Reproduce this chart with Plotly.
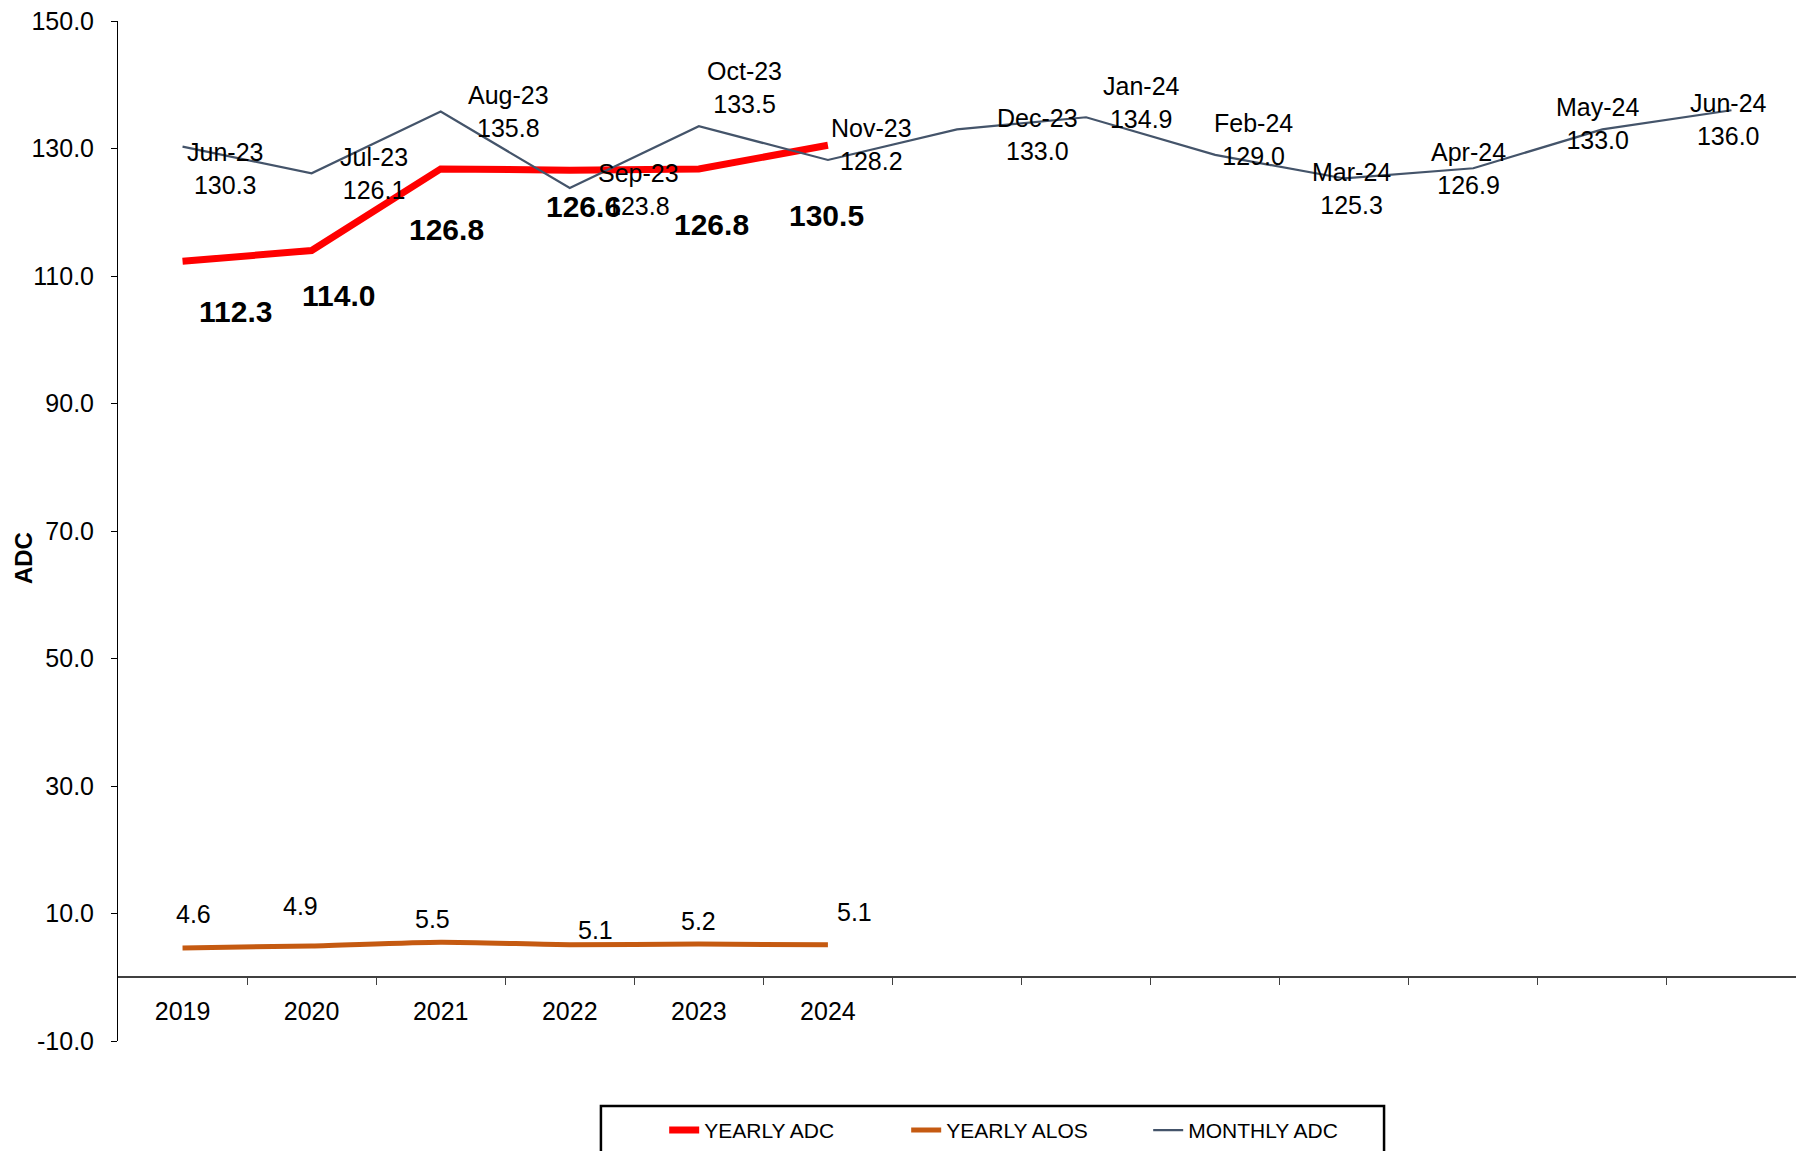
import plotly.graph_objects as go

years = ["2019", "2020", "2021", "2022", "2023", "2024"]
yearly_adc = [112.3, 114.0, 126.8, 126.6, 126.8, 130.5]
yearly_alos = [4.6, 4.9, 5.5, 5.1, 5.2, 5.1]
months = ["Jun-23", "Jul-23", "Aug-23", "Sep-23", "Oct-23", "Nov-23", "Dec-23",
          "Jan-24", "Feb-24", "Mar-24", "Apr-24", "May-24", "Jun-24"]
monthly_adc = [130.3, 126.1, 135.8, 123.8, 133.5, 128.2, 133.0,
               134.9, 129.0, 125.3, 126.9, 133.0, 136.0]
y_ticks = [-10, 10, 30, 50, 70, 90, 110, 130, 150]
y_tick_text = ["-10.0", "10.0", "30.0", "50.0", "70.0", "90.0", "110.0", "130.0", "150.0"]

# label offsets (px) -- styling only
monthly_off = [(42, -22), (62, 0), (68, 0), (69, -1), (46, 39), (44, 15), (80, -5),
               (55, 15), (38, 15), (7, -10), (-5, 0), (-5, 6), (-3, -9)]
adc_off = [(53, -50), (27, -45), (6, -61), (14, -36), (13, -56), (-1, -70)]
alos_off = [(11, 34), (-11, 40), (-8, 23), (26, 15), (0, 23), (27, 33)]

FONT = "Liberation Sans, Arial, sans-serif"
xy = list(range(len(years)))
xm = list(range(len(months)))

fig = go.Figure()
fig.add_trace(go.Scatter(x=xy, y=yearly_adc, mode="lines", name="YEARLY ADC",
                         line=dict(color="#FF0000", width=7), hoverinfo="skip"))
fig.add_trace(go.Scatter(x=xy, y=yearly_alos, mode="lines", name="YEARLY ALOS",
                         line=dict(color="#C55A11", width=5, shape="spline", smoothing=0.6),
                         hoverinfo="skip"))
fig.add_trace(go.Scatter(x=xm, y=monthly_adc, mode="lines", name="MONTHLY ADC",
                         line=dict(color="#44546A", width=2.2), hoverinfo="skip"))

ann = []
for i, (m, v) in enumerate(zip(months, monthly_adc)):
    dx, dy = monthly_off[i]
    ann.append(dict(x=i, y=v, xref="x", yref="y", text=f"{m}<br>{v:.1f}", showarrow=False,
                    xshift=dx, yshift=dy, font=dict(size=25, color="black", family=FONT)))
for i, v in enumerate(yearly_adc):
    dx, dy = adc_off[i]
    ann.append(dict(x=i, y=v, xref="x", yref="y", text=f"<b>{v:.1f}</b>", showarrow=False,
                    xshift=dx, yshift=dy, font=dict(size=30, color="black", family=FONT)))
for i, v in enumerate(yearly_alos):
    dx, dy = alos_off[i]
    ann.append(dict(x=i, y=v, xref="x", yref="y", text=f"{v:.1f}", showarrow=False,
                    xshift=dx, yshift=dy, font=dict(size=25, color="black", family=FONT)))
ann.append(dict(x=-0.0566, y=0.4735, xref="paper", yref="paper", text="<b>ADC</b>",
                xanchor="center", yanchor="middle",
                textangle=-90, showarrow=False, font=dict(size=24, color="black", family=FONT)))

fig.update_layout(
    width=1796, height=1151,
    margin=dict(l=118, r=0, t=21, b=110),
    plot_bgcolor="white", paper_bgcolor="white",
    font=dict(family=FONT, color="black", size=25),
    annotations=ann,
    showlegend=True,
    legend=dict(orientation="h", x=0.3255, y=-0.0676, xanchor="left", yanchor="top",
                font=dict(size=21, family=FONT, color="black"), bgcolor="rgba(0,0,0,0)",
                entrywidth=197, entrywidthmode="pixels", traceorder="normal"),
    shapes=[dict(type="rect", xref="paper", yref="paper", x0=0.2878, x1=0.7545,
                 y0=-0.0637, y1=-0.13, line=dict(color="black", width=2.5))],
    xaxis=dict(range=[-0.5, 12.5], anchor="free", position=10 / 160,
               showline=True, linecolor="#404040", linewidth=1.5,
               tickmode="array", tickvals=xy, ticktext=years, ticks="",
               ticklabelstandoff=12, showgrid=False, zeroline=False,
               tickfont=dict(size=25, family=FONT, color="black"),
               minor=dict(tickmode="array", tickvals=[i + 0.5 for i in range(12)],
                          ticks="outside", ticklen=7, tickwidth=1, tickcolor="#404040",
                          showgrid=False)),
    yaxis=dict(range=[-10, 150], tickmode="array", tickvals=y_ticks, ticktext=y_tick_text,
               ticks="outside", ticklen=6, tickcolor="black",
               showline=True, linecolor="black", linewidth=1, showgrid=False,
               zeroline=False, ticklabelstandoff=12,
               tickfont=dict(size=25, family=FONT, color="black")),
)

fig.write_html("out.html")
